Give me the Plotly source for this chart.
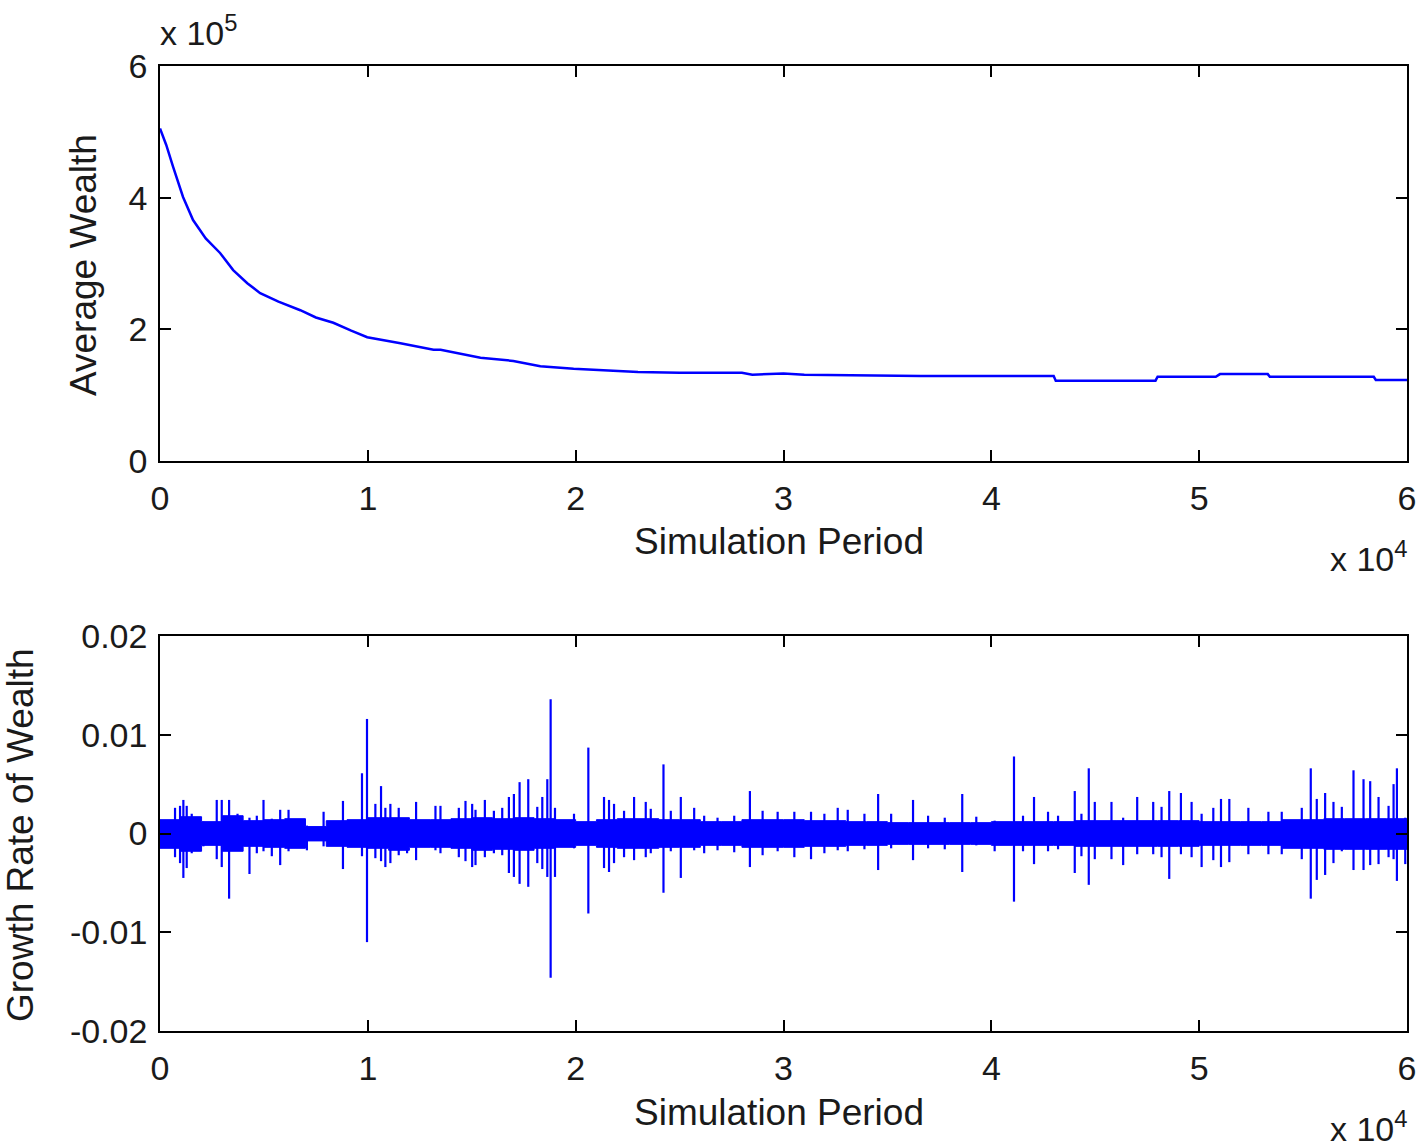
import plotly.graph_objects as go

# ---- top panel: average wealth ----
wealth_period = [0, 300, 627, 1108, 1590, 2200, 2890, 3520, 4200, 4820, 5700, 6750,
                 7500, 8340, 9200, 9970, 11570, 13160, 13500, 15420, 17000, 18300,
                 19900, 22000, 23000, 25000, 28000, 28500, 30000, 31000, 36600,
                 43000, 43100, 47900, 48000, 50800, 51000, 53300, 53400, 58400,
                 58500, 60000]
wealth_value = [505000, 480000, 447000, 401000, 366000, 338000, 316000, 290000,
                270000, 255000, 242000, 229000, 218000, 210000, 198000, 188000,
                179000, 169000, 169000, 157000, 152000, 144000, 140000, 137000,
                135000, 134000, 134000, 131000, 133000, 131000, 129000, 129000,
                122000, 122000, 128000, 128000, 132000, 132000, 128000, 128000,
                123000, 123000]

# ---- bottom panel: growth rate (units of 1e-3) ----
# dense core of the series, one value per 1000 periods
band_period = [i * 1000 for i in range(61)]
band_hi = [1.4, 1.7, 1.2, 1.8, 1.3, 1.4, 1.5, 0.7, 1.3, 1.4, 1.6, 1.6, 1.4, 1.4,
           1.5, 1.6, 1.5, 1.6, 1.5, 1.4, 1.2, 1.4, 1.5, 1.5, 1.4, 1.4, 1.2, 1.2,
           1.4, 1.4, 1.4, 1.3, 1.3, 1.2, 1.2, 1.1, 1.1, 1.1, 1.1, 1.1, 1.2, 1.2,
           1.2, 1.2, 1.3, 1.3, 1.3, 1.3, 1.3, 1.3, 1.2, 1.2, 1.2, 1.2, 1.4, 1.4,
           1.5, 1.5, 1.5, 1.5, 1.5]
band_lo = [-1.5, -1.8, -1.2, -1.8, -1.3, -1.4, -1.5, -0.75, -1.3, -1.4, -1.5, -1.7,
           -1.4, -1.4, -1.5, -1.7, -1.6, -1.7, -1.5, -1.4, -1.2, -1.4, -1.5, -1.5,
           -1.4, -1.4, -1.2, -1.2, -1.4, -1.4, -1.4, -1.3, -1.3, -1.2, -1.2, -1.1,
           -1.1, -1.1, -1.1, -1.1, -1.2, -1.2, -1.2, -1.2, -1.3, -1.3, -1.3, -1.3,
           -1.3, -1.3, -1.2, -1.2, -1.2, -1.2, -1.5, -1.5, -1.6, -1.6, -1.6, -1.6,
           -1.6]

# single excursions sticking out of the core
spike_period = [723, 964, 1124, 1285, 1526, 2088, 2730, 2971, 3325, 3730, 4305, 4658,
                4980, 5380, 5783, 6185, 7068, 7871, 8803, 9719, 9960, 10362, 10635,
                10844, 11085, 11486, 11888, 12322, 13254, 13495, 14378, 14699,
                15020, 15181, 15631, 16065, 16466, 16787, 17028, 17302, 17719,
                18153, 18394, 18635, 18796, 19005, 19920, 20610,
                21364, 21605, 21846, 22328, 22810, 23372, 23613, 24225, 24577,
                25059, 25702, 26183, 26826, 27629, 28384, 28995, 29718, 30521,
                31324, 31967, 32609, 33091, 33894, 34553, 35179, 36233, 36956,
                37759, 38600, 39276, 40159,
                41090, 41524, 42054, 42728, 43210, 44014, 44335, 44688, 44978,
                45781, 46343, 47018, 47789, 48190, 48560, 49122, 49636, 50118,
                50680, 51050, 51451, 52367, 53331, 53973, 54937, 55370, 55659,
                56061, 56462, 56864, 57426, 57908, 58229, 58631, 59113, 59354,
                59515, 59916]
spike_hi = [2.6, 2.8, 3.4, 2.8, 2.0, 1.2, 3.4, 3.4, 3.4, 2.0, 1.6, 1.8,
            3.4, 1.5, 2.4, 2.4, 0.8, 2.2, 3.3, 6.1, 11.6, 3.0, 4.8,
            2.6, 3.0, 2.6, 1.5, 3.2, 2.8, 2.8, 2.6, 3.3,
            3.0, 2.4, 3.4, 2.3, 2.6, 3.7, 4.0, 5.2, 5.5,
            2.7, 3.7, 5.5, 13.6, 2.6, 2.0, 8.7,
            3.7, 3.4, 3.0, 2.3, 3.7, 3.2, 2.5, 7.0, 2.3,
            3.7, 2.6, 1.8, 1.6, 1.8, 4.3, 2.3, 2.2, 2.2,
            2.2, 2.0, 2.6, 2.4, 2.0, 4.0, 2.0, 3.4, 1.8,
            1.6, 4.0, 1.7, 1.3,
            7.8, 1.8, 3.7, 2.2, 1.8, 4.3, 2.0, 6.6, 3.2,
            3.2, 1.6, 3.7, 3.2, 2.7, 4.3, 4.1, 3.2, 2.0,
            2.6, 3.5, 3.5, 2.6, 2.2, 2.2, 2.6, 6.6, 3.5,
            4.1, 3.2, 2.7, 6.4, 5.5, 5.3, 3.7, 2.8, 5.0,
            6.6, 1.6]
spike_lo = [-2.4, -3.0, -4.5, -3.5, -2.0, -1.3, -2.6, -3.4, -6.6, -1.7, -4.1, -2.0,
            -1.8, -2.3, -3.2, -1.8, -1.7, -1.3, -3.6, -2.3, -11.0, -2.5, -2.8,
            -3.4, -3.0, -2.2, -2.0, -2.7, -1.7, -2.0, -2.4, -2.8,
            -3.4, -3.2, -2.4, -2.0, -2.2, -4.0, -4.4, -5.1, -5.4,
            -3.0, -3.6, -4.4, -14.6, -4.4, -1.5, -8.1,
            -3.5, -3.9, -3.0, -2.4, -2.7, -2.4, -2.0, -6.0, -1.8,
            -4.5, -1.7, -2.0, -1.7, -1.9, -3.4, -2.2, -1.8, -2.4,
            -2.6, -2.0, -1.7, -1.8, -1.6, -3.7, -1.5, -2.7, -1.5,
            -1.6, -3.9, -1.2, -1.8,
            -6.9, -1.8, -3.1, -1.8, -1.6, -4.0, -2.3, -5.2, -2.6,
            -2.6, -3.2, -2.1, -2.1, -2.4, -4.6, -2.1, -2.4, -3.4,
            -2.7, -3.4, -2.9, -2.1, -2.1, -2.1, -2.6, -6.6, -4.7,
            -4.2, -3.0, -1.8, -3.7, -3.7, -3.2, -3.1, -2.4, -2.6,
            -4.8, -3.1]

x_ticks = [0, 10000, 20000, 30000, 40000, 50000, 60000]
x_ticktext = ["0", "1", "2", "3", "4", "5", "6"]
wealth_ticks = [0, 200000, 400000, 600000]
wealth_ticktext = ["0", "2", "4", "6"]
growth_ticks = [-0.02, -0.01, 0, 0.01, 0.02]
growth_ticktext = ["-0.02", "-0.01", "0", "0.01", "0.02"]

W, H = 1418, 1147
FONT = "Liberation Sans, Arial, sans-serif"
BLUE = "#0000ff"
INK = "#1a1a1a"


def px_x(p):
    return p / W


def px_y(p):
    return 1 - p / H


fig = go.Figure()

fig.add_trace(go.Scatter(x=wealth_period, y=wealth_value, mode="lines",
                         line=dict(color=BLUE, width=2.5), xaxis="x", yaxis="y",
                         showlegend=False, hoverinfo="skip"))

# core band
fig.add_trace(go.Scatter(x=band_period, y=[v / 1000 for v in band_hi], mode="lines",
                         line=dict(color=BLUE, width=1, shape="hv"),
                         xaxis="x2", yaxis="y2", showlegend=False, hoverinfo="skip"))
fig.add_trace(go.Scatter(x=band_period, y=[v / 1000 for v in band_lo], mode="lines",
                         line=dict(color=BLUE, width=1, shape="hv"), fill="tonexty",
                         fillcolor=BLUE, xaxis="x2", yaxis="y2", showlegend=False,
                         hoverinfo="skip"))

# spikes as vertical segments
sx, sy = [], []
for p, hi, lo in zip(spike_period, spike_hi, spike_lo):
    sx += [p, p, None]
    sy += [lo / 1000, hi / 1000, None]
fig.add_trace(go.Scatter(x=sx, y=sy, mode="lines", line=dict(color=BLUE, width=2.2),
                         xaxis="x2", yaxis="y2", showlegend=False, hoverinfo="skip"))

axis_common = dict(showline=True, linecolor="black", linewidth=1.5, mirror="ticks",
                   ticks="inside", ticklen=11, tickwidth=1.5, tickcolor="black",
                   showgrid=False, zeroline=False, automargin=False,
                   tickfont=dict(family=FONT, size=34, color=INK))

xdom = [px_x(160), px_x(1407)]
fig.update_layout(
    width=W, height=H,
    margin=dict(l=0, r=0, t=0, b=0),
    paper_bgcolor="white", plot_bgcolor="white",
    xaxis=dict(domain=xdom, range=[0, 60000], tickvals=x_ticks, ticktext=x_ticktext,
               anchor="y", ticklabelstandoff=6, **axis_common),
    yaxis=dict(domain=[px_y(461), px_y(66)], range=[0, 600000], tickvals=wealth_ticks,
               ticktext=wealth_ticktext, anchor="x", ticklabelstandoff=4, **axis_common),
    xaxis2=dict(domain=xdom, range=[0, 60000], tickvals=x_ticks, ticktext=x_ticktext,
                anchor="y2", ticklabelstandoff=6, **axis_common),
    yaxis2=dict(domain=[px_y(1031), px_y(636)], range=[-0.02, 0.02], tickvals=growth_ticks,
                ticktext=growth_ticktext, anchor="x2", ticklabelstandoff=4, **axis_common),
)

title_font = dict(family=FONT, size=37, color=INK)
notes = [
    dict(text="Average Wealth", x=px_x(83), y=px_y(265), textangle=-90),
    dict(text="Simulation Period", x=px_x(779), y=px_y(542)),
    dict(text="Growth Rate of Wealth", x=px_x(20), y=px_y(835), textangle=-90),
    dict(text="Simulation Period", x=px_x(779), y=px_y(1112)),
]
for n in notes:
    fig.add_annotation(xref="paper", yref="paper", showarrow=False,
                       xanchor="center", yanchor="middle", font=title_font, **n)

exp_font = dict(family=FONT, size=34, color=INK)
fig.add_annotation(text="x 10<sup>5</sup>", xref="paper", yref="paper", showarrow=False,
                   x=px_x(158), y=px_y(30), xanchor="left", yanchor="middle", font=exp_font)
fig.add_annotation(text="x 10<sup>4</sup>", xref="paper", yref="paper", showarrow=False,
                   x=px_x(1410), y=px_y(556), xanchor="right", yanchor="middle", font=exp_font)
fig.add_annotation(text="x 10<sup>4</sup>", xref="paper", yref="paper", showarrow=False,
                   x=px_x(1410), y=px_y(1126), xanchor="right", yanchor="middle", font=exp_font)

# the page's default 8px body margin would push the figure out of the window
fig.write_html("out.html", config={"displayModeBar": False},
               post_script="document.body.style.margin='0';document.body.style.overflow='hidden';")
